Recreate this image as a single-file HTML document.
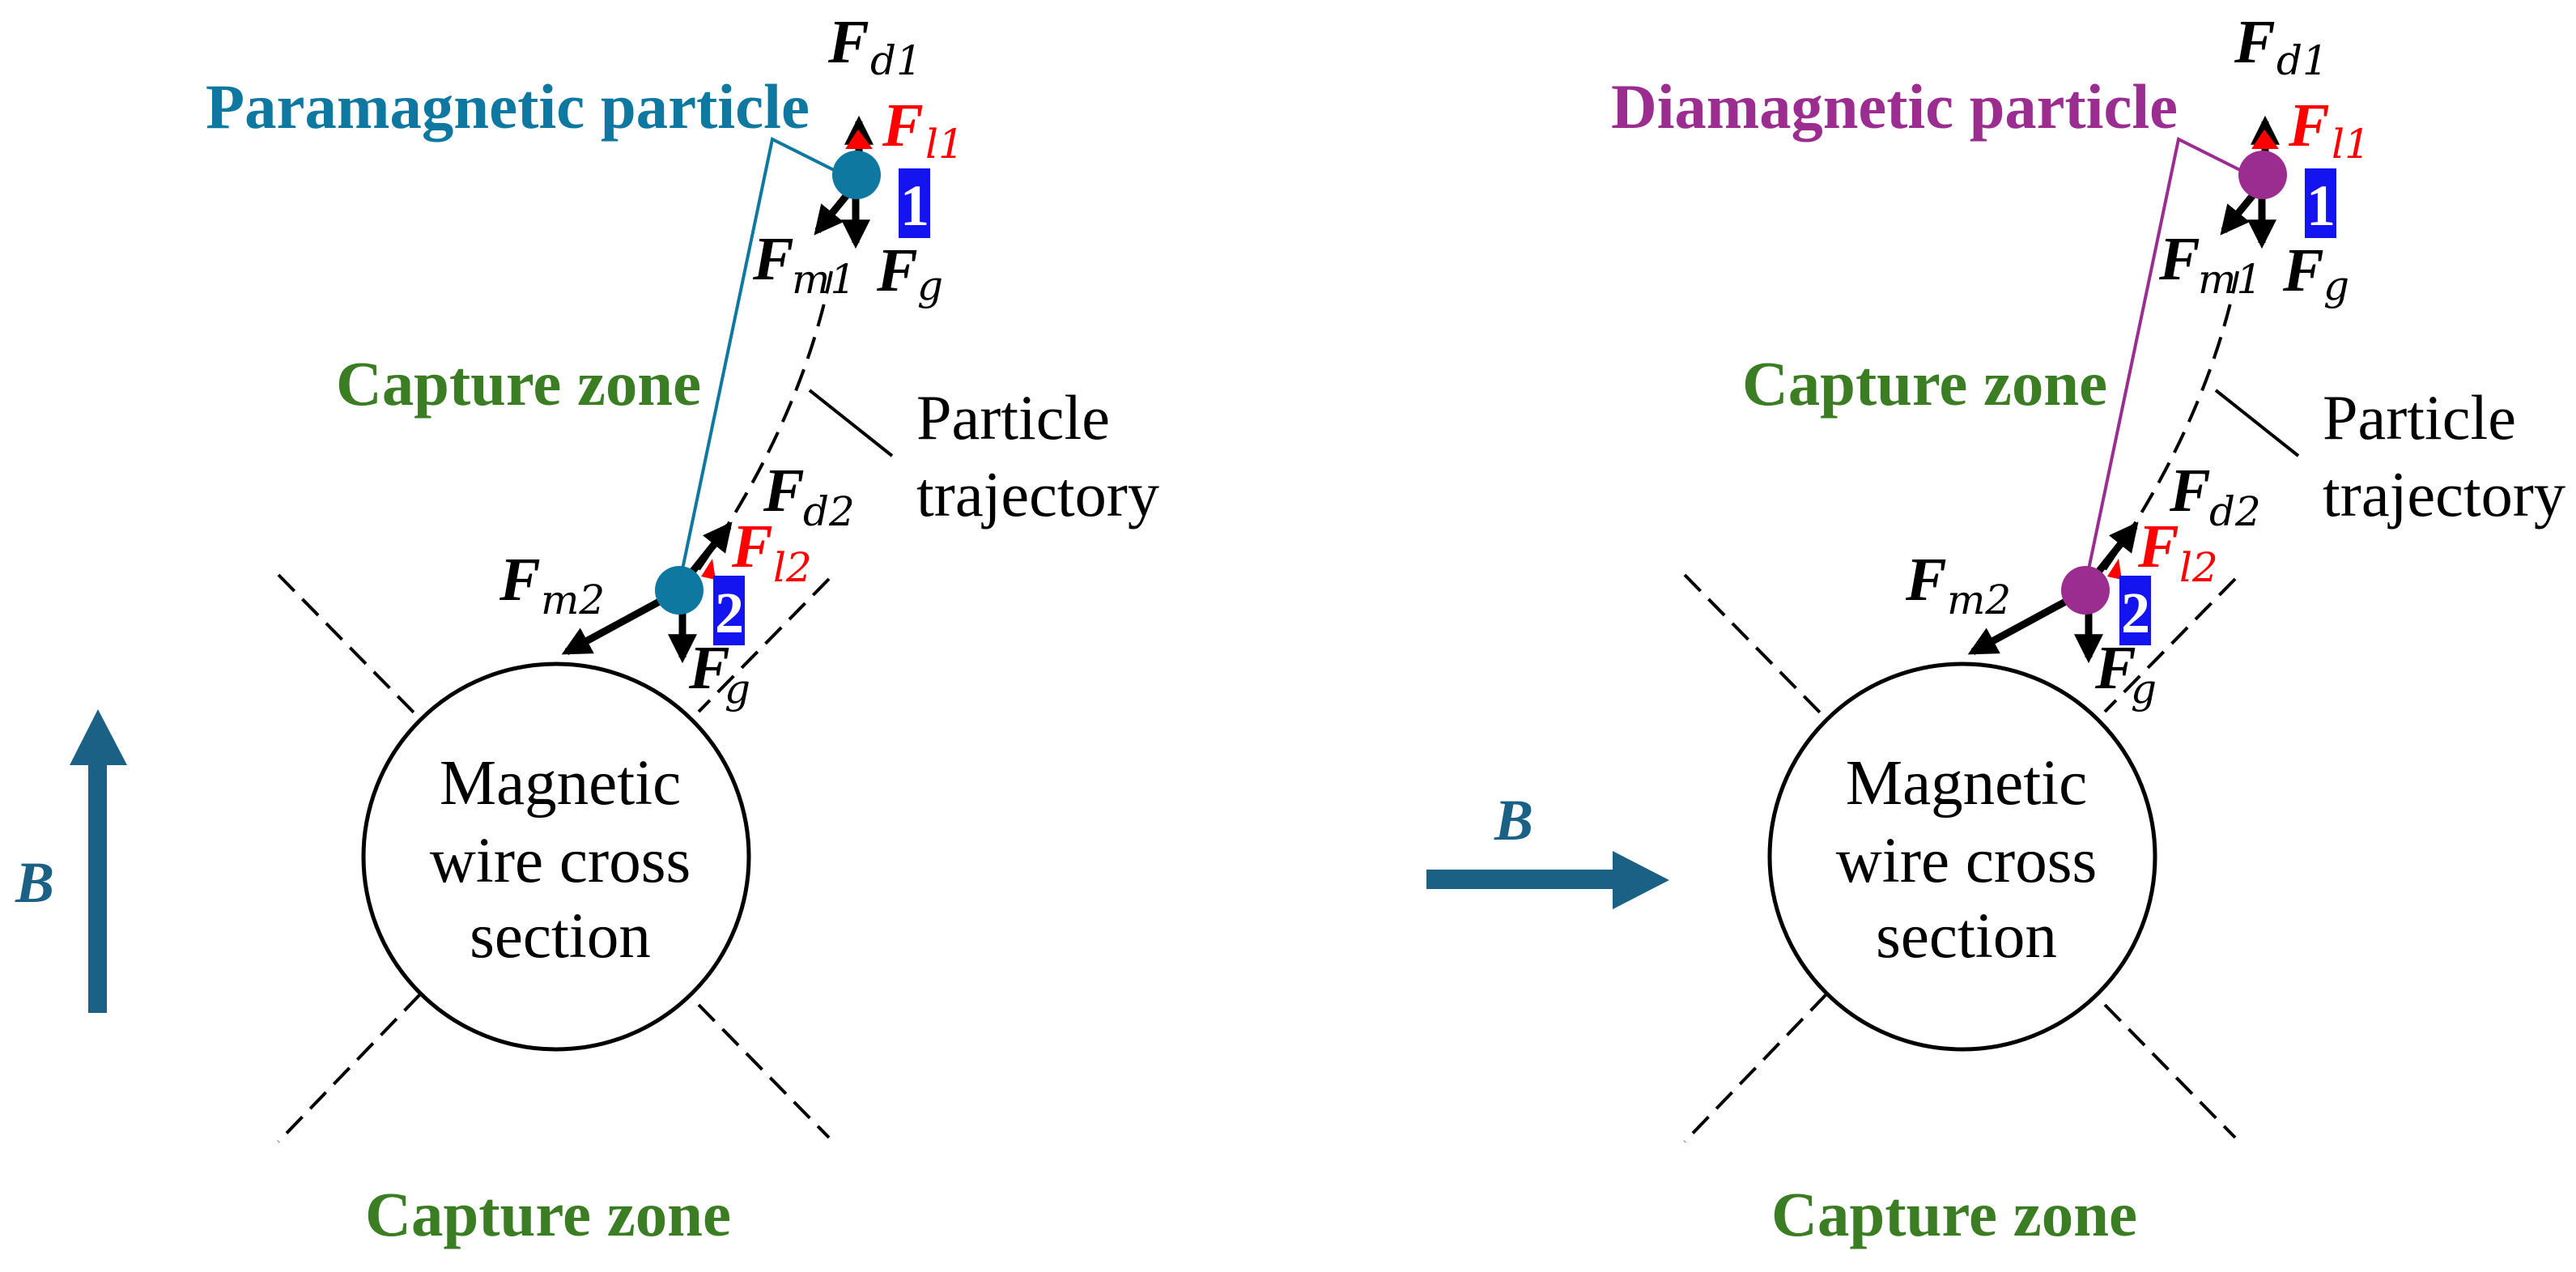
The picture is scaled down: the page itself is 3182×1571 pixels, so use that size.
<!DOCTYPE html>
<html><head><meta charset="utf-8"><style>
html,body{margin:0;padding:0;background:#fff;}
svg{display:block;}
.ser{font-family:"Liberation Serif",serif;}
.F{font-family:"Liberation Serif",serif;font-weight:bold;font-style:italic;font-size:76px;}
.s{font-family:"DejaVu Serif","Liberation Serif",serif;font-style:italic;font-size:50px;}
</style></head><body>
<svg width="3182" height="1571" viewBox="0 0 3182 1571" xmlns="http://www.w3.org/2000/svg">
<defs>
<marker id="ah" viewBox="0 0 10 10" refX="8" refY="5" markerWidth="4" markerHeight="4" orient="auto" markerUnits="strokeWidth">
<path d="M0,0 L10,5 L0,10 z" fill="#000"/></marker>
<g id="common">
  <g stroke="#000" stroke-width="4" stroke-dasharray="28 14" fill="none">
    <line x1="344" y1="710" x2="519" y2="888"/>
    <line x1="1024" y1="715" x2="863" y2="879"/>
    <line x1="519" y1="1228" x2="344" y2="1410"/>
    <line x1="863" y1="1241" x2="1024" y2="1405"/>
    <path d="M1027,335 Q990,520 862,705"/>
    <line x1="839" y1="729" x2="700" y2="808"/>
  </g>
  <line x1="1000" y1="482" x2="1102" y2="563" stroke="#000" stroke-width="4"/>
  <circle cx="687" cy="1058" r="238" fill="none" stroke="#000" stroke-width="5"/>
  <text class="ser" font-size="79" text-anchor="middle" x="692" y="993">Magnetic</text>
  <text class="ser" font-size="79" text-anchor="middle" x="692" y="1089">wire cross</text>
  <text class="ser" font-size="79" text-anchor="middle" x="692" y="1182">section</text>
  <text class="ser" font-size="78" x="1132" y="542" textLength="239" lengthAdjust="spacingAndGlyphs">Particle</text>
  <text class="ser" font-size="78" x="1132" y="637" textLength="300" lengthAdjust="spacingAndGlyphs">trajectory</text>
  <text class="ser" font-size="78" font-weight="bold" fill="#3b7d23" x="415" y="500" textLength="451" lengthAdjust="spacingAndGlyphs">Capture zone</text>
  <text class="ser" font-size="78" font-weight="bold" fill="#3b7d23" x="451" y="1526" textLength="452" lengthAdjust="spacingAndGlyphs">Capture zone</text>
  <g stroke="#000" stroke-width="9" fill="none" marker-end="url(#ah)">
    <line x1="1061" y1="205" x2="1061" y2="150"/>
    <line x1="1046" y1="241" x2="1010" y2="285"/>
    <line x1="1057" y1="241" x2="1057" y2="300"/>
    <line x1="856" y1="705" x2="900" y2="650"/>
    <line x1="820" y1="740" x2="700" y2="805"/>
    <line x1="843" y1="752" x2="843" y2="812"/>
  </g>
  <path d="M1044,184 L1060,160 L1078,184 z" fill="#ff0000"/>
  <path d="M866,712 L880,690 L884,716 z" fill="#ff0000"/>
  <text class="F" x="1023" y="77">F</text><text class="s" x="1075" y="92">d1</text>
  <text class="F" fill="#ff0000" x="1090" y="180">F</text><text class="s" fill="#ff0000" x="1143" y="195">l1</text>
  <rect x="1110" y="208" width="39" height="86" fill="#1414f0"/>
  <text class="ser" font-weight="bold" font-size="72" fill="#fff" text-anchor="middle" x="1130" y="278">1</text>
  <text class="F" x="930" y="345">F</text><text class="s" x="978" y="362">m1</text>
  <text class="F" x="1083" y="359">F</text><text class="s" x="1133" y="370">g</text>
  <text class="F" x="943" y="631">F</text><text class="s" x="992" y="649">d2</text>
  <text class="F" fill="#ff0000" x="904" y="700">F</text><text class="s" fill="#ff0000" x="955" y="718">l2</text>
  <rect x="881" y="711" width="39" height="86" fill="#1414f0"/>
  <text class="ser" font-weight="bold" font-size="72" fill="#fff" text-anchor="middle" x="901" y="781">2</text>
  <text class="F" x="617" y="741">F</text><text class="s" x="668" y="758">m2</text>
  <text class="F" x="851" y="850">F</text><text class="s" x="895" y="868">g</text>
</g>
</defs>

<use href="#common"/>
<polyline points="1030,210 954,172 843,703" fill="none" stroke="#0e78a0" stroke-width="4"/>
<circle cx="1058" cy="216" r="30" fill="#0e78a0"/>
<circle cx="839" cy="729" r="30" fill="#0e78a0"/>
<text class="ser" font-size="78" font-weight="bold" fill="#0e78a0" x="254" y="158" textLength="746" lengthAdjust="spacingAndGlyphs">Paramagnetic particle</text>
<polygon points="109,1251 132,1251 132,945 157,945 121,876 86,945 109,945" fill="#1a6185"/>
<text class="ser" font-size="72" font-weight="bold" font-style="italic" fill="#1a6185" x="19" y="1114">B</text>

<use href="#common" x="1737"/>
<polyline points="2767,210 2691,172 2580,703" fill="none" stroke="#9b2d91" stroke-width="4"/>
<circle cx="2795" cy="216" r="30" fill="#9b2d91"/>
<circle cx="2576" cy="729" r="30" fill="#9b2d91"/>
<text class="ser" font-size="78" font-weight="bold" fill="#9b2d91" x="1990" y="158" textLength="700" lengthAdjust="spacingAndGlyphs">Diamagnetic particle</text>
<polygon points="1762,1074 1992,1074 1992,1051 2062,1087 1992,1123 1992,1098 1762,1098" fill="#1a6185"/>
<text class="ser" font-size="72" font-weight="bold" font-style="italic" fill="#1a6185" x="1846" y="1037">B</text>
</svg>
</body></html>
